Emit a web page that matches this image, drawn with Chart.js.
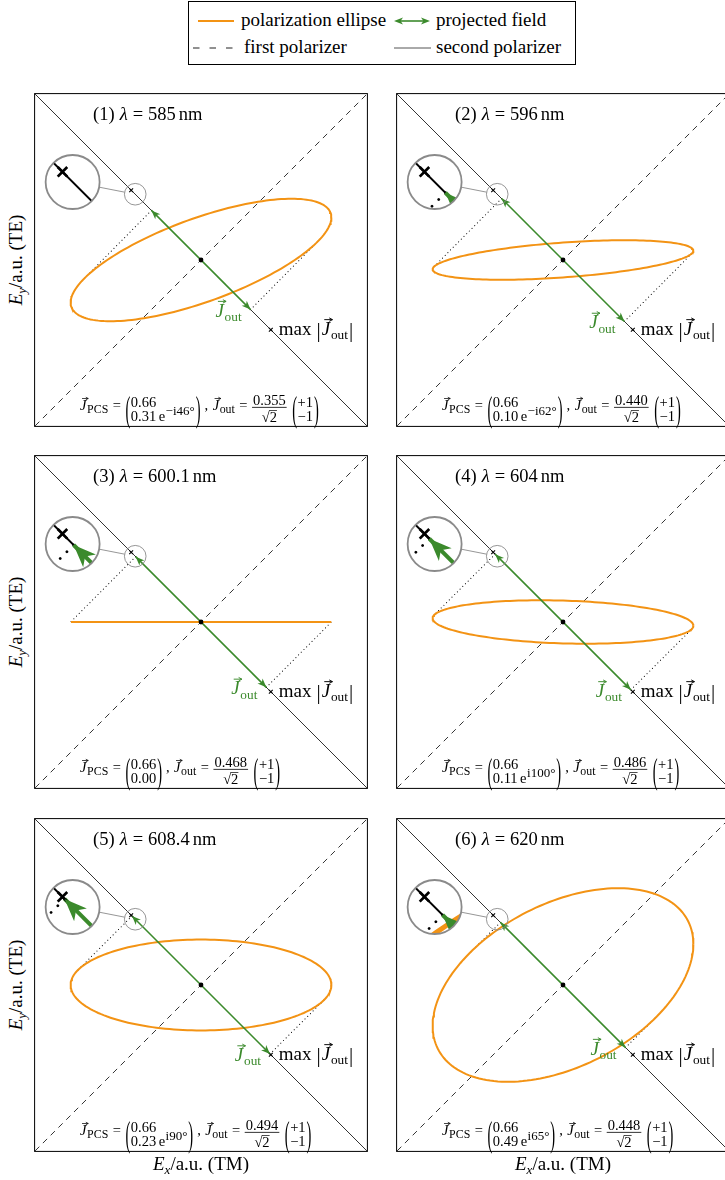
<!DOCTYPE html>
<html>
<head>
<meta charset="utf-8">
<title>Polarization ellipse and projected field</title>
<script src="https://cdn.jsdelivr.net/npm/chart.js@4.4.1/dist/chart.umd.min.js"></script>
<style>
  html, body { margin: 0; padding: 0; background: #fff; }
  body { position: relative; width: 725px; height: 1180px; overflow: hidden;
         font-family: "Liberation Serif", "Times New Roman", serif; color: #000; }
  #legend { position: absolute; left: 188px; top: 1px; width: 388px; height: 64px;
            border: 1px solid #000; box-sizing: border-box; }
  #legend svg { position: absolute; left: 0; top: 0; }
  .lg { position: absolute; font-size: 19px; line-height: 19px; white-space: nowrap; }
  .axlab { position: absolute; width: 240px; height: 24px; line-height: 24px; font-size: 19px;
           text-align: center; white-space: nowrap; }
  .axlab sub { font-size: 13px; vertical-align: -4px; line-height: 0; }
  .ylab { transform: rotate(-90deg); }
  canvas { position: absolute; }
</style>
</head>
<body>
<div id="legend">
  <svg width="388" height="64">
    <line x1="9" y1="19" x2="45" y2="19" stroke="#f39314" stroke-width="2"/>
    <line x1="211" y1="19" x2="235" y2="19" stroke="#3b8a2c" stroke-width="1.6"/>
    <path d="M205 19 l9 -3.6 l-2.4 3.6 l2.4 3.6 z" fill="#3b8a2c"/>
    <path d="M241 19 l-9 -3.6 l2.4 3.6 l-2.4 3.6 z" fill="#3b8a2c"/>
    <line x1="4" y1="46" x2="44" y2="46" stroke="#222" stroke-width="1" stroke-dasharray="6.5 10"/>
    <line x1="205" y1="46" x2="242" y2="46" stroke="#555" stroke-width="1"/>
  </svg>
  <span class="lg" style="left:52px;top:8px">polarization ellipse</span>
  <span class="lg" style="left:247px;top:8px">projected field</span>
  <span class="lg" style="left:55px;top:35px">first polarizer</span>
  <span class="lg" style="left:247px;top:35px">second polarizer</span>
</div>

<script>
// ---------------- data ----------------
const panelNumbers = [1, 2, 3, 4, 5, 6];
const wavelengthsNm = ['585', '596', '600.1', '604', '608.4', '620'];
const pcsAmpTM = [0.66, 0.66, 0.66, 0.66, 0.66, 0.66];      // |J_PCS,x|
const pcsAmpTE = [0.31, 0.10, 0.00, 0.11, 0.23, 0.49];      // |J_PCS,y|
const pcsPhaseDeg = [-46, -62, 0, 100, 90, 65];             // arg of J_PCS,y
const jOutAmp = [0.355, 0.440, 0.468, 0.486, 0.494, 0.448]; // |J_out|
const jOutMax = 0.5;                                         // max |J_out|
const axisLimit = 0.84;

// ---------------- layout / style ----------------
const PANEL = 336, PAD = 3;
const colLeft = [33, 395];
const rowTop = [92, 454, 817];
const lens = { at: 0.333, mag: 2.5, radius: 27, cx: -0.65, cy: 0.395 };
const ORANGE = '#f39314';
const GREEN = '#3b8a2c';
const LENS_GRAY = '#8a8a8a';
const SERIF = '"Liberation Serif", "Times New Roman", serif';
const SQRT2 = Math.SQRT2;

Chart.defaults.font.family = SERIF;

function font(size, italic) { return (italic ? 'italic ' : '') + size + 'px ' + SERIF; }

function drawVecArrow(ctx, x, y, w, fs, color) {
  const ay = y - fs * 0.8;
  const x0 = x + w * 0.3, x1 = x + w + fs * 0.12;
  ctx.save();
  ctx.strokeStyle = color || '#000';
  ctx.lineWidth = Math.max(0.7, fs * 0.05);
  ctx.beginPath();
  ctx.moveTo(x0, ay); ctx.lineTo(x1, ay);
  ctx.moveTo(x1 - fs * 0.17, ay - fs * 0.09); ctx.lineTo(x1, ay); ctx.lineTo(x1 - fs * 0.17, ay + fs * 0.09);
  ctx.stroke();
  ctx.restore();
}

// draws a run of text pieces from x on baseline y, returns end x
function drawRun(ctx, x, y, pieces, measureOnly) {
  for (const p of pieces) {
    if (p.gap !== undefined) { x += p.gap; continue; }
    ctx.font = font(p.size, p.italic);
    const w = ctx.measureText(p.text).width;
    if (!measureOnly) {
      ctx.fillStyle = p.color || '#000';
      ctx.fillText(p.text, x, y + (p.dy || 0));
      if (p.vec) drawVecArrow(ctx, x, y + (p.dy || 0), w, p.size, p.color);
    }
    x += w;
  }
  return x;
}
function runWidth(ctx, pieces) { return drawRun(ctx, 0, 0, pieces, true); }

function vecSymbol(sub, fs, color, subScale) {
  const k = subScale || 0.7;
  return [{ text: 'J', italic: true, size: fs, vec: true, color }, { gap: fs * 0.04 },
          { text: sub, size: fs * k, dy: fs * 0.22, color }];
}

function bigParen(ctx, ch, x, yc, h, fs) {
  ctx.save();
  ctx.font = font(fs);
  ctx.fillStyle = '#000';
  const w = ctx.measureText(ch).width;
  const s = h / (fs * 0.92);
  ctx.translate(x, yc);
  ctx.scale(1, s);
  ctx.fillText(ch, 0, 0.25 * fs);
  ctx.restore();
  return w;
}

function drawFormula(ctx, x, yc, i) {
  const fs = 14.5, ss = 13;
  const r1 = yc - 3.5, r2 = yc + 10.5;
  const ph = 32;
  let cx = drawRun(ctx, x, yc, vecSymbol('PCS', fs, '#000', 0.82));
  cx = drawRun(ctx, cx + 4.5, yc, [{ text: '=', size: fs }]) + 4.5;
  cx += bigParen(ctx, '(', cx, yc + 2, ph, fs);
  const row1 = [{ text: pcsAmpTM[i].toFixed(2), size: fs }];
  let row2;
  if (pcsAmpTE[i] > 0) {
    const deg = pcsPhaseDeg[i];
    const phStr = (deg < 0 ? '\u2212i' : 'i') + Math.abs(deg) + '\u00b0';
    row2 = [{ text: pcsAmpTE[i].toFixed(2), size: fs }, { gap: 2.5 }, { text: 'e', size: fs },
            { gap: 0.5 }, { text: phStr, size: ss, dy: -5.5 }];
  } else {
    row2 = [{ text: pcsAmpTE[i].toFixed(2), size: fs }];
  }
  const colW = Math.max(runWidth(ctx, row1), runWidth(ctx, row2));
  drawRun(ctx, cx + 0.5, r1, row1);
  drawRun(ctx, cx + 0.5, r2, row2);
  cx += colW + 1.5;
  cx += bigParen(ctx, ')', cx, yc + 2, ph, fs);
  cx = drawRun(ctx, cx + 4, yc, [{ text: ',', size: fs }]) + 4.5;
  cx = drawRun(ctx, cx, yc, vecSymbol('out', fs, '#000', 0.82));
  cx = drawRun(ctx, cx + 4.5, yc, [{ text: '=', size: fs }]) + 4.5;
  // fraction |J_out| / sqrt(2)
  ctx.font = font(fs);
  const num = jOutAmp[i].toFixed(3);
  const numW = ctx.measureText(num).width;
  const rootW = ctx.measureText('\u221a').width, twoW = ctx.measureText('2').width;
  const fw = numW + 2;
  ctx.fillStyle = '#000';
  ctx.fillText(num, cx + 1, yc - 5);
  ctx.fillRect(cx, yc - 3.2, fw, 0.8);
  const dx = cx + (fw - rootW - twoW) / 2;
  ctx.fillText('\u221a', dx, yc + 11.5);
  ctx.fillText('2', dx + rootW, yc + 11.5);
  ctx.fillRect(dx + rootW - 0.5, yc + 11.5 - fs * 0.8, twoW + 0.5, 0.7);
  cx += fw + 5.5;
  // unit vector (+1, -1)
  cx += bigParen(ctx, '(', cx, yc + 2, ph, fs);
  ctx.font = font(fs);
  const a = '+1', b = '\u22121';
  const aw = ctx.measureText(a).width, bw = ctx.measureText(b).width;
  const vw = Math.max(aw, bw);
  ctx.fillText(a, cx + 0.5 + (vw - aw) / 2, r1);
  ctx.fillText(b, cx + 0.5 + (vw - bw) / 2, r2);
  cx += vw + 1.5;
  bigParen(ctx, ')', cx, yc + 2, ph, fs);
}

function stealth(ctx, tip, dir, len, half) {
  const bx = tip.x - dir.x * len, by = tip.y - dir.y * len;
  const nx = -dir.y, ny = dir.x;
  ctx.beginPath();
  ctx.moveTo(tip.x, tip.y);
  ctx.lineTo(bx + nx * half, by + ny * half);
  ctx.lineTo(tip.x - dir.x * len * 0.72, tip.y - dir.y * len * 0.72);
  ctx.lineTo(bx - nx * half, by - ny * half);
  ctx.closePath();
  ctx.fill();
}

function drawArrowHeads(chart, ctx) {
  const idx = chart.data.datasets.findIndex(d => d.label === 'projected field');
  const pts = chart.getDatasetMeta(idx).data;
  const p0 = pts[0], p1 = pts[1];
  const L = Math.hypot(p1.x - p0.x, p1.y - p0.y);
  const u = { x: (p1.x - p0.x) / L, y: (p1.y - p0.y) / L };
  ctx.save();
  ctx.fillStyle = GREEN;
  stealth(ctx, { x: p1.x, y: p1.y }, u, 9, 3.6);
  stealth(ctx, { x: p0.x, y: p0.y }, { x: -u.x, y: -u.y }, 9, 3.6);
  ctx.restore();
}

function drawLens(chart, ctx) {
  const xs = chart.scales.x, ys = chart.scales.y;
  const S = { x: xs.getPixelForValue(-lens.at), y: ys.getPixelForValue(lens.at) };
  const B = { x: xs.getPixelForValue(lens.cx), y: ys.getPixelForValue(lens.cy) };
  const r = lens.radius, rs = r / lens.mag;
  ctx.save();
  ctx.beginPath();
  ctx.arc(B.x, B.y, r, 0, 2 * Math.PI);
  ctx.fillStyle = '#fff';
  ctx.fill();
  ctx.clip();
  ctx.translate(B.x, B.y);
  ctx.scale(lens.mag, lens.mag);
  ctx.translate(-S.x, -S.y);
  const metas = chart.getSortedVisibleDatasetMetas();
  for (let k = metas.length - 1; k >= 0; k--) metas[k].controller.draw();
  drawArrowHeads(chart, ctx);
  ctx.restore();

  const d = Math.hypot(S.x - B.x, S.y - B.y);
  const u = { x: (S.x - B.x) / d, y: (S.y - B.y) / d };
  ctx.save();
  ctx.strokeStyle = LENS_GRAY;
  ctx.lineWidth = 0.9;
  ctx.beginPath();
  ctx.moveTo(B.x + u.x * r, B.y + u.y * r);
  ctx.lineTo(S.x - u.x * rs, S.y - u.y * rs);
  ctx.stroke();
  ctx.beginPath();
  ctx.arc(S.x, S.y, rs, 0, 2 * Math.PI);
  ctx.stroke();
  ctx.lineWidth = 1.8;
  ctx.beginPath();
  ctx.arc(B.x, B.y, r, 0, 2 * Math.PI);
  ctx.stroke();
  ctx.restore();
}

const panelDecor = {
  id: 'panelDecor',
  afterDatasetsDraw(chart) {
    drawArrowHeads(chart, chart.ctx);
    drawLens(chart, chart.ctx);
  },
  afterDraw(chart, args, opts) {
    const ctx = chart.ctx, ca = chart.chartArea, i = opts.index;
    const xs = chart.scales.x, ys = chart.scales.y;
    ctx.save();
    ctx.strokeStyle = '#000';
    ctx.lineWidth = 1;
    ctx.strokeRect(ca.left - 0.5, ca.top - 0.5, ca.right - ca.left + 1, ca.bottom - ca.top + 1);

    // title
    drawRun(ctx, ca.left + 58, ca.top + 26, [
      { text: '(' + panelNumbers[i] + ')', size: 18.5 }, { gap: 5 },
      { text: '\u03bb', italic: true, size: 18.5 }, { gap: 5 },
      { text: '=', size: 18.5 }, { gap: 5 },
      { text: wavelengthsNm[i], size: 18.5 }, { gap: 3 },
      { text: 'nm', size: 18.5 }]);

    // label of the maximum
    const m = jOutMax / SQRT2;
    const mx = xs.getPixelForValue(m), my = ys.getPixelForValue(-m);
    let cx = drawRun(ctx, mx + 8, my + 5, [{ text: 'max', size: 19 }, { gap: 5 }]);
    ctx.save();
    ctx.font = font(21);
    ctx.fillText('|', cx, my + 7);
    cx += ctx.measureText('|').width + 1;
    ctx.restore();
    cx = drawRun(ctx, cx, my + 5, vecSymbol('out', 19));
    ctx.font = font(21);
    ctx.fillText('|', cx + 1, my + 7);

    // label at the arrow tip
    const d = jOutAmp[i] / SQRT2;
    const tx = xs.getPixelForValue(d), ty = ys.getPixelForValue(-d);
    const lab = vecSymbol('out', 19, GREEN);
    drawRun(ctx, tx - 9 - runWidth(ctx, lab), ty + 7, lab);

    // Jones vectors
    drawFormula(ctx, ca.left + 45, ca.top + 316, i);
    ctx.restore();
  }
};

function buildPanel(i) {
  const canvas = document.createElement('canvas');
  canvas.width = PANEL + 2 * PAD;
  canvas.height = PANEL + 2 * PAD;
  canvas.style.left = (colLeft[i % 2] - PAD) + 'px';
  canvas.style.top = (rowTop[Math.floor(i / 2)] - PAD) + 'px';
  document.body.appendChild(canvas);

  const Ax = pcsAmpTM[i], Ay = pcsAmpTE[i], ph = pcsPhaseDeg[i] * Math.PI / 180;
  const ellipse = [];
  for (let k = 0; k <= 180; k++) {
    const t = k * 2 * Math.PI / 180;
    ellipse.push({ x: Ax * Math.cos(t), y: Ay * Math.cos(t + ph) });
  }
  const d = jOutAmp[i] / SQRT2;
  // point of the ellipse with the largest projection on the second polarizer
  const cRe = Ax - Ay * Math.cos(ph), cIm = -Ay * Math.sin(ph);
  const ts = -Math.atan2(cIm, cRe);
  const P = { x: Ax * Math.cos(ts), y: Ay * Math.cos(ts + ph) };
  const m = jOutMax / SQRT2;
  const L = axisLimit;

  const lineDs = (label, data, extra) => Object.assign({
    label, data, showLine: true, pointRadius: 0, pointHoverRadius: 0,
    borderColor: '#000', borderWidth: 0.8, fill: false, tension: 0
  }, extra);

  new Chart(canvas, {
    type: 'scatter',
    data: {
      datasets: [
        lineDs('second polarizer', [{ x: -L, y: L }, { x: L, y: -L }], { order: 7 }),
        lineDs('first polarizer', [{ x: -L, y: -L }, { x: L, y: L }], { borderDash: [6, 5], order: 7 }),
        lineDs('projection +', [{ x: d, y: -d }, P],
               { borderDash: [0.01, 3.8], borderCapStyle: 'round', borderWidth: 1.1, order: 6 }),
        lineDs('projection -', [{ x: -d, y: d }, { x: -P.x, y: -P.y }],
               { borderDash: [0.01, 3.8], borderCapStyle: 'round', borderWidth: 1.1, order: 6 }),
        lineDs('polarization ellipse', ellipse, { borderColor: ORANGE, borderWidth: 2, order: 5 }),
        lineDs('projected field', [{ x: -d, y: d }, { x: d, y: -d }],
               { borderColor: GREEN, borderWidth: 1.6, borderCapStyle: 'butt', order: 4 }),
        { label: 'origin', data: [{ x: 0, y: 0 }], pointRadius: 2.4, pointBackgroundColor: '#000',
          pointBorderWidth: 0, order: 3 },
        { label: 'max', data: [{ x: m, y: -m }, { x: -m, y: m }], pointStyle: 'crossRot',
          pointRadius: 2.7, borderColor: '#000', pointBorderColor: '#000', pointBorderWidth: 1.1, order: 2 }
      ]
    },
    options: {
      responsive: false,
      animation: false,
      devicePixelRatio: 1,
      layout: { padding: PAD },
      events: [],
      scales: {
        x: { type: 'linear', min: -L, max: L, display: false },
        y: { type: 'linear', min: -L, max: L, display: false }
      },
      plugins: {
        legend: { display: false },
        tooltip: { enabled: false },
        panelDecor: { index: i }
      }
    },
    plugins: [panelDecor]
  });
}

panelNumbers.forEach((n, i) => buildPanel(i));

// axis titles
rowTop.forEach(top => {
  const el = document.createElement('div');
  el.className = 'axlab ylab';
  el.style.left = (16 - 120) + 'px';
  el.style.top = (top + PANEL / 2 - 12) + 'px';
  el.innerHTML = '<i>E</i><sub><i>y</i></sub>/a.u. (TE)';
  document.body.appendChild(el);
});
colLeft.forEach(left => {
  const el = document.createElement('div');
  el.className = 'axlab';
  el.style.left = (left + PANEL / 2 - 120) + 'px';
  el.style.top = (rowTop[2] + PANEL - 1) + 'px';
  el.innerHTML = '<i>E</i><sub><i>x</i></sub>/a.u. (TM)';
  document.body.appendChild(el);
});
</script>
</body>
</html>
